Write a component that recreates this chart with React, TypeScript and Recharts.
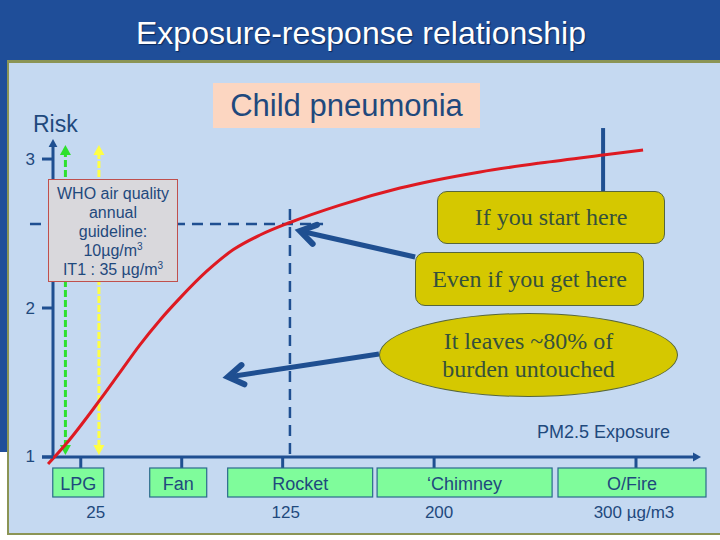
import React from 'react';
import { LineChart, Line, XAxis, YAxis, ReferenceLine } from 'recharts';

// risk curve (exposure in ug/m3, relative risk)
const curveExposure = [8.8, 18, 34.5, 44.4, 54.3, 64.3, 74.2, 87.4, 100.6, 113.8, 128.6, 153.4, 183.1, 222.8, 252.5, 283.7, 303.5];
const curveRisk = [0.953, 1.092, 1.383, 1.568, 1.753, 1.92, 2.068, 2.247, 2.392, 2.49, 2.574, 2.691, 2.805, 2.913, 2.973, 3.027, 3.06];

// stove types along the exposure axis
const stoveCategories = ['LPG', 'Fan', 'Rocket', '\u2018Chimney', 'O/Fire'];
const stoveExposure = [25, 75, 125, 200, 300];
const exposureLabels = ['25', '', '125', '200', '300 \u00b5g/m3'];
const riskTicks = [1, 2, 3];

// guide lines (exposure, risk)
const whoGuideline = 17.4;
const it1Guideline = 34;
const rocketExposure = 128.6;
const rocketRisk = 2.564;
const chimneyMarker = 283.7;

const curveData = curveExposure.map((x, i) => ({ x, risk: curveRisk[i] }));

const colors = {
  header: '#1f4e99',
  panel: '#c5d9f1',
  olive: '#8b9455',
  axis: '#1f4f91',
  text: '#1f497d',
  curve: '#de1a22',
  green: '#2ee02e',
  yellow: '#ffff44',
  stoveBox: '#7ffc9b',
  callout: '#d5c800',
  calloutText: '#35513c',
  peach: '#fcd6c1',
};

const SANS = '"Liberation Sans", Arial, sans-serif';
const SERIF = '"Liberation Serif", "Times New Roman", serif';

// box offsets relative to each tick (style only)
const stoveBoxes = [
  { dx: -28, w: 51, label: 15 },
  { dx: -32, w: 57, label: 0 },
  { dx: -55, w: 145, label: 3 },
  { dx: -57, w: 175, label: 5 },
  { dx: -78, w: 148, label: -2 },
];

type Head = 'none' | 'tri' | 'chev';

const arrow = (end: Head, start: Head = 'none', size = 10) => (p: any) => {
  const { x1, y1, x2, y2, stroke, strokeWidth, strokeDasharray } = p;
  const len = Math.hypot(x2 - x1, y2 - y1) || 1;
  const ux = (x2 - x1) / len;
  const uy = (y2 - y1) / len;
  const head = (tx: number, ty: number, dx: number, dy: number, kind: Head) => {
    if (kind === 'tri') {
      const bx = tx - dx * size;
      const by = ty - dy * size;
      const w = size * 0.55;
      return (
        <polygon
          points={`${tx},${ty} ${bx - dy * w},${by + dx * w} ${bx + dy * w},${by - dx * w}`}
          fill={stroke}
        />
      );
    }
    if (kind === 'chev') {
      const a = Math.PI / 5.5;
      const bx = -dx;
      const by = -dy;
      const p1x = tx + size * (bx * Math.cos(a) - by * Math.sin(a));
      const p1y = ty + size * (bx * Math.sin(a) + by * Math.cos(a));
      const p2x = tx + size * (bx * Math.cos(-a) - by * Math.sin(-a));
      const p2y = ty + size * (bx * Math.sin(-a) + by * Math.cos(-a));
      return (
        <path
          d={`M${p1x},${p1y} L${tx},${ty} L${p2x},${p2y}`}
          fill="none"
          stroke={stroke}
          strokeWidth={strokeWidth + 1}
          strokeLinecap="round"
        />
      );
    }
    return null;
  };
  const te = end === 'tri' ? size * 0.8 : 0;
  const ts = start === 'tri' ? size * 0.8 : 0;
  return (
    <g>
      <line
        x1={x1 + ux * ts}
        y1={y1 + uy * ts}
        x2={x2 - ux * te}
        y2={y2 - uy * te}
        stroke={stroke}
        strokeWidth={strokeWidth}
        strokeDasharray={strokeDasharray}
      />
      {head(x2, y2, ux, uy, end)}
      {head(x1, y1, -ux, -uy, start)}
    </g>
  );
};

const XTick = (props: any) => {
  const { x, y, payload } = props;
  const i = stoveExposure.indexOf(payload.value);
  if (i < 0) return null;
  const box = stoveBoxes[i];
  return (
    <g>
      <line x1={x} y1={y - 11} x2={x} y2={y} stroke={colors.axis} strokeWidth={3} />
      <rect x={x + box.dx} y={y} width={box.w} height={29} fill={colors.stoveBox} stroke="#2b6a8c" strokeWidth={1.2} />
      <text x={x + box.dx + box.w / 2} y={y + 16} textAnchor="middle" dominantBaseline="central" fontSize={18} fill={colors.text}>
        {stoveCategories[i]}
      </text>
      <text x={x + box.label} y={y + 44} textAnchor="middle" dominantBaseline="central" fontSize={17} fill={colors.text}>
        {exposureLabels[i]}
      </text>
    </g>
  );
};

const YTick = (props: any) => {
  const { x, y, payload } = props;
  return (
    <g>
      <line x1={x} y1={y} x2={x + 11} y2={y} stroke={colors.axis} strokeWidth={3} />
      <text x={x - 7} y={y} textAnchor="end" dominantBaseline="central" fontSize={17} fill={colors.text}>
        {payload.value}
      </text>
    </g>
  );
};

const calloutBox: React.CSSProperties = {
  position: 'absolute',
  background: colors.callout,
  border: '1px solid #56663c',
  borderRadius: 10,
  boxSizing: 'border-box',
  display: 'flex',
  alignItems: 'center',
  justifyContent: 'center',
  fontFamily: SERIF,
  fontSize: 24,
  color: colors.calloutText,
};

export default function App() {
  return (
    <div style={{ position: 'relative', width: 720, height: 540, background: '#fff', fontFamily: SANS, overflow: 'hidden' }}>
      <style>{'body{margin:0}'}</style>
      <div style={{ position: 'absolute', left: 0, top: 0, width: 720, height: 452, background: colors.header }} />
      <div
        style={{
          position: 'absolute',
          left: 7,
          top: 60,
          width: 713,
          height: 475,
          boxSizing: 'border-box',
          background: colors.panel,
          borderTop: `3px solid ${colors.olive}`,
          borderLeft: `2px solid ${colors.olive}`,
          borderBottom: `2px solid ${colors.olive}`,
        }}
      />
      <div
        style={{
          position: 'absolute',
          left: 0,
          top: 15,
          width: 722,
          textAlign: 'center',
          fontSize: 32,
          lineHeight: '36px',
          color: '#fff',
          textShadow: '1px 1px 1px #0b2a5c',
        }}
      >
        Exposure-response relationship
      </div>

      <div style={{ position: 'absolute', left: 0, top: 0 }}>
        <LineChart width={720} height={540} data={curveData} margin={{ top: 120, right: 20, bottom: 0, left: 0 }}>
          <XAxis
            dataKey="x"
            type="number"
            domain={[5.8, 331.7]}
            ticks={stoveExposure}
            interval={0}
            axisLine={false}
            tickLine={false}
            tickSize={0}
            tickMargin={0}
            height={72}
            tick={<XTick />}
          />
          <YAxis
            type="number"
            domain={[0.926, 3.262]}
            ticks={riskTicks}
            interval={0}
            axisLine={false}
            tickLine={false}
            tickSize={0}
            tickMargin={0}
            width={42}
            tick={<YTick />}
          />
          {/* guideline arrows */}
          <ReferenceLine
            segment={[{ x: whoGuideline, y: 1.013 }, { x: whoGuideline, y: 3.094 }]}
            stroke={colors.green}
            strokeWidth={3}
            strokeDasharray="7 3"
            ifOverflow="visible"
            shape={arrow('tri', 'tri', 10)}
          />
          <ReferenceLine
            segment={[{ x: it1Guideline, y: 1.013 }, { x: it1Guideline, y: 3.094 }]}
            stroke={colors.yellow}
            strokeWidth={3}
            strokeDasharray="7 2"
            ifOverflow="visible"
            shape={arrow('tri', 'tri', 10)}
          />
          {/* dashed drop lines at the rocket stove */}
          <ReferenceLine
            segment={[{ x: -0.15, y: rocketRisk }, { x: 145, y: rocketRisk }]}
            stroke={colors.axis}
            strokeWidth={2.5}
            strokeDasharray="11 7"
            ifOverflow="visible"
          />
          <ReferenceLine
            segment={[{ x: rocketExposure, y: 2.664 }, { x: rocketExposure, y: 1 }]}
            stroke={colors.axis}
            strokeWidth={2.5}
            strokeDasharray="11 7"
            ifOverflow="visible"
          />
          <ReferenceLine
            segment={[{ x: chimneyMarker, y: 3.208 }, { x: chimneyMarker, y: 2.5 }]}
            stroke={colors.axis}
            strokeWidth={4}
            ifOverflow="visible"
          />
          {/* axes */}
          <ReferenceLine
            segment={[{ x: 11.25, y: 1 }, { x: 11.25, y: 3.134 }]}
            stroke={colors.axis}
            strokeWidth={3}
            ifOverflow="visible"
            shape={arrow('tri', 'none', 8)}
          />
          <ReferenceLine
            segment={[{ x: 5.8, y: 1 }, { x: 332.2, y: 1 }]}
            stroke={colors.axis}
            strokeWidth={3}
            ifOverflow="visible"
            shape={arrow('tri', 'none', 8)}
          />
          {/* callout arrows */}
          <ReferenceLine
            segment={[{ x: 190.6, y: 2.342 }, { x: 133.6, y: 2.517 }]}
            stroke={colors.axis}
            strokeWidth={5}
            ifOverflow="visible"
            shape={arrow('chev', 'none', 18)}
          />
          <ReferenceLine
            segment={[{ x: 172.7, y: 1.691 }, { x: 97.9, y: 1.537 }]}
            stroke={colors.axis}
            strokeWidth={5}
            ifOverflow="visible"
            shape={arrow('chev', 'none', 18)}
          />
          <Line
            type="monotone"
            dataKey="risk"
            stroke={colors.curve}
            strokeWidth={3}
            dot={false}
            activeDot={false}
            isAnimationActive={false}
          />
        </LineChart>
      </div>

      <div style={{ position: 'absolute', left: 33, top: 111, fontSize: 23, lineHeight: '26px', color: colors.text }}>Risk</div>
      <div
        style={{
          position: 'absolute',
          left: 213,
          top: 83,
          width: 267,
          height: 45,
          background: colors.peach,
          display: 'flex',
          alignItems: 'center',
          justifyContent: 'center',
          fontSize: 31,
          color: colors.text,
        }}
      >
        Child pneumonia
      </div>
      <div
        style={{
          position: 'absolute',
          left: 48,
          top: 179,
          width: 130,
          height: 103,
          boxSizing: 'border-box',
          background: '#d9d8dc',
          border: '1px solid #c0504d',
          paddingTop: 4,
          textAlign: 'center',
          fontSize: 16,
          lineHeight: '19px',
          color: colors.text,
        }}
      >
        WHO air quality
        <br />
        annual
        <br />
        guideline:
        <br />
        10µg/m<sup style={{ fontSize: 10, lineHeight: 0 }}>3</sup>
        <br />
        IT1 : 35 µg/m<sup style={{ fontSize: 10, lineHeight: 0 }}>3</sup>
      </div>

      <div style={{ ...calloutBox, left: 437, top: 191, width: 228, height: 53 }}>If you start here</div>
      <div style={{ ...calloutBox, left: 415, top: 252, width: 229, height: 54 }}>Even if you get here</div>
      <div
        style={{
          ...calloutBox,
          left: 379,
          top: 313,
          width: 299,
          height: 84,
          borderRadius: '50%',
          flexDirection: 'column',
          lineHeight: '28px',
          textAlign: 'center',
        }}
      >
        <div>It leaves ~80% of</div>
        <div>burden untouched</div>
      </div>

      <div style={{ position: 'absolute', left: 537, top: 421, fontSize: 18, lineHeight: '22px', color: colors.text }}>
        PM2.5 Exposure
      </div>
    </div>
  );
}
